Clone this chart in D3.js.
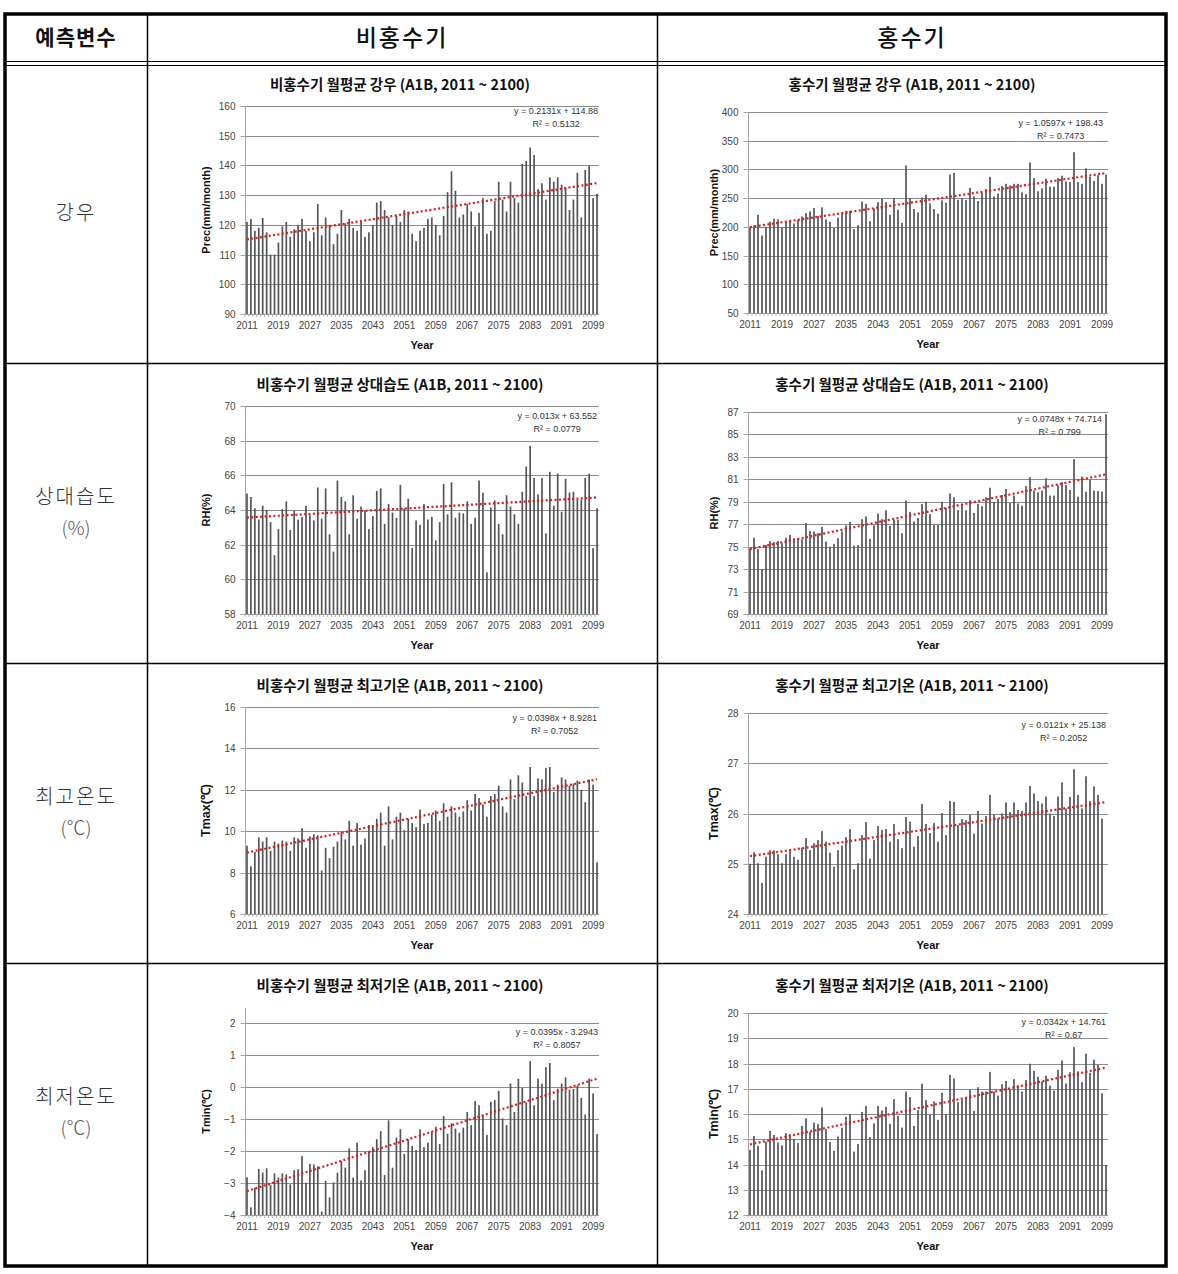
<!DOCTYPE html>
<html><head><meta charset="utf-8">
<script src="https://cdn.jsdelivr.net/npm/d3@7"></script>
<style>
body{margin:0;background:#fff;}
svg{display:block;}
</style></head>
<body>
<svg id="c" width="1178" height="1274"></svg>
<script>
// ---------- DATA ----------
const years = d3.range(2011, 2101).map(String); // categories 2011..2100
const xTickLabels = ["2011","2019","2027","2035","2043","2051","2059","2067","2075","2083","2091","2099"];

const precDry = [121,122,118,119,122.3,117.5,110,110,114,119.5,
121,116,118.5,120,122,118,114.5,117.5,127,116.5,
122.5,120,113.5,117,125,120.5,122,119,118,121,
116,117.5,120,127.5,128,125,122.5,120,123,121,
125,124.5,117,114.5,118,119,122,122.5,120,116.5,
123,131,138,131.5,122.5,123.5,127,124.5,119.5,124,
129,117,118,128,134.5,128.5,124.5,134.5,129,127.5,
140.5,141.5,146,143.5,132,134,128.5,136,134.5,136,
133.5,132.5,125,128.5,137.5,122.5,138.5,140,129,130.5];

const precFlood = [199,203,221,185,200,209,214,213,199,209,
210,206,212,218,224,227,233,219,234,213,
209,198,216,223,228,228,196,203,244,240,
210,232,243,249,243,221,250,230,207,307,
250,231,225,251,256,241,231,223,246,242,
291,294,247,250,247,268,253,245,259,266,
287,253,258,271,275,272,275,275,260,257,
312,285,262,267,284,270,270,285,289,279,
278,330,278,275,302,287,280,290,275,291];

const rhDry = [64.95,64.75,64.1,63.45,64.25,64.0,63.3,61.4,62.9,64.05,
64.5,62.85,63.95,63.45,63.6,64.25,63.7,63.4,65.3,63.5,
65.25,62.6,61.6,65.7,64.75,64.5,62.6,64.85,63.5,64.2,
63.95,62.9,63.65,65.1,65.25,63.2,64.35,63.85,63.55,65.45,
64.1,64.65,61.8,63.4,63.15,64.35,63.45,63.6,62.25,63.3,
65.5,63.75,65.6,63.55,63.85,63.8,64.5,63.2,63.55,65.7,
65.0,60.4,64.15,64.55,63.2,62.6,64.85,64.2,63.75,63.2,
65.05,66.5,67.7,65.85,64.9,65.85,62.65,66.2,64.25,66.1,
63.9,65.8,65.0,65.05,64.6,64.6,65.85,66.1,61.8,64.1];

const rhFlood = [74.85,75.8,74.8,73.0,75.15,75.5,75.4,75.5,75.3,75.8,
76.05,75.75,75.7,75.65,77.1,76.4,76.35,76.2,76.75,75.45,
75.0,75.25,75.75,76.35,76.9,77.2,75.1,75.15,77.45,77.7,
75.7,76.9,77.95,77.45,78.25,76.85,77.4,77.4,76.2,79.1,
78.1,77.25,77.55,78.8,79.0,77.9,76.95,76.95,79.0,78.45,
79.75,79.4,78.25,78.7,78.25,79.15,78.0,78.8,78.6,79.4,
80.25,79.0,79.25,79.6,80.15,78.9,79.55,78.85,78.65,80.4,
81.2,80.0,79.85,80.0,81.1,79.55,79.55,80.45,80.75,80.5,
80.05,82.8,79.45,81.25,79.9,80.95,80.0,79.95,79.9,86.8];

const tmaxDry = [9.3,8.3,9.0,9.7,9.5,9.7,9.05,9.5,9.4,9.55,
9.5,9.05,9.7,9.65,10.15,9.2,9.75,9.85,9.8,8.1,
9.2,8.7,9.25,9.5,9.95,9.6,10.5,9.3,10.4,9.35,
9.65,10.3,10.25,10.6,10.9,9.3,11.2,9.6,10.7,10.9,
10.05,10.6,10.4,10.2,11.05,10.35,10.4,10.8,11.0,10.5,
11.35,10.7,11.2,10.9,10.7,10.95,11.5,11.0,11.8,11.6,
11.3,10.7,11.7,11.8,12.2,11.2,10.9,12.5,11.55,12.7,
12.35,11.7,13.1,11.7,12.55,12.5,13.05,13.1,11.9,12.25,
12.6,12.5,12.2,12.3,12.45,12.0,11.4,12.5,12.25,8.5];

const tmaxFlood = [25.0,25.23,25.01,24.62,25.14,25.27,25.27,25.19,25.01,25.19,
25.26,25.14,25.08,25.32,25.51,25.27,25.41,25.47,25.65,25.44,
25.22,24.94,25.27,25.36,25.53,25.69,24.89,25.01,25.57,25.83,
25.1,25.47,25.75,25.67,25.69,25.44,25.79,25.49,25.31,25.93,
25.84,25.34,25.55,26.19,25.79,25.61,25.81,25.44,26.01,25.57,
26.25,26.23,25.77,25.89,25.87,25.97,25.6,26.05,25.8,25.95,
26.37,25.97,25.9,26.0,26.22,26.03,26.22,26.07,26.05,26.22,
26.55,26.4,26.25,26.2,26.34,26.0,25.95,26.34,26.62,26.1,
26.33,26.88,26.37,26.1,26.74,26.25,26.54,26.37,25.9,null];

const tminDry = [-2.82,-3.76,-3.15,-2.56,-2.67,-2.54,-3.06,-2.70,-2.83,-2.70,
-2.73,-3.04,-2.60,-2.57,-2.16,-2.99,-2.40,-2.42,-2.48,-3.89,
-2.93,-3.45,-2.98,-2.68,-2.31,-2.52,-1.92,-2.83,-1.74,-2.92,
-2.60,-2.02,-1.88,-1.63,-1.38,-2.75,-1.04,-2.52,-1.58,-1.32,
-2.09,-1.64,-1.84,-1.97,-1.32,-1.88,-1.74,-1.40,-1.24,-1.78,
-0.91,-1.46,-1.13,-1.30,-1.43,-1.27,-0.78,-1.19,-0.44,-0.57,
-0.88,-1.50,-0.46,-0.41,-0.12,-0.98,-1.19,0.11,-0.78,0.26,
-0.03,-0.48,0.81,-0.57,0.26,0.11,0.62,0.75,-0.41,-0.05,
0.11,0.30,-0.08,-0.06,0.05,-0.34,-0.86,0.26,-0.20,-1.47];

const tminFlood = [14.58,15.13,14.74,13.77,14.91,15.33,15.17,14.87,14.76,15.24,
15.20,15.01,14.85,15.53,15.83,15.30,15.66,15.60,16.26,15.40,
14.89,14.54,15.11,15.46,15.89,16.00,14.51,14.81,16.08,16.32,
15.09,15.63,16.32,16.14,16.28,15.61,16.59,15.93,15.46,16.89,
16.67,15.53,16.15,17.20,16.55,15.97,16.50,15.77,16.84,16.00,
17.55,17.41,16.47,16.56,16.63,16.96,16.12,17.06,16.89,16.89,
17.67,16.89,16.73,17.18,17.31,16.96,17.38,17.13,16.89,17.35,
17.99,17.71,17.47,17.29,17.51,17.12,16.93,17.75,18.12,17.21,
17.65,18.65,17.69,17.26,18.39,17.63,18.15,17.95,16.82,13.98];

// trend equations shown in each chart: [slope, intercept, R²]
const trendPrecDry = [0.2131, 114.88, "0.5132"];
const trendPrecFlood = [1.0597, 198.43, "0.7473"];
const trendRhDry = [0.013, 63.552, "0.0779"];
const trendRhFlood = [0.0748, 74.714, "0.799"];
const trendTmaxDry = [0.0398, 8.9281, "0.7052"];
const trendTmaxFlood = [0.0121, 25.138, "0.2052"];
const trendTminDry = [0.0395, -3.2943, "0.8057"];
const trendTminFlood = [0.0342, 14.761, "0.67"];

// y ticks
const ticksPrecDry = [90,100,110,120,130,140,150,160];
const ticksPrecFlood = [50,100,150,200,250,300,350,400];
const ticksRhDry = [58,60,62,64,66,68,70];
const ticksRhFlood = [69,71,73,75,77,79,81,83,85,87];
const ticksTmaxDry = [6,8,10,12,14,16];
const ticksTmaxFlood = [24,25,26,27,28];
const ticksTminDry = [-4,-3,-2,-1,0,1,2];
const ticksTminFlood = [12,13,14,15,16,17,18,19,20];

const headerLabels = ["예측변수","비홍수기","홍수기"];
const rowLabels = [["강우"],["상대습도","(%)"],["최고온도","(℃)"],["최저온도","(℃)"]];

// ---------- LAYOUT / DRAW ----------
const svg = d3.select("#c");
svg.append("rect").attr("width",1178).attr("height",1274).attr("fill","#fff");

const NUM = "'Liberation Sans', Arial, sans-serif";
const KR = "'Noto Sans CJK KR', 'Noto Sans', sans-serif";

const L = {x0:245, x1:599, titleX:400, yTitleX:206};
const R = {x0:748, x1:1108, titleX:912, yTitleX:714};

const charts = [
 {side:L, top:106, bot:314, titleY:85, vals:precDry, ticks:ticksPrecDry, dmax:160, tr:trendPrecDry,
  title:"비홍수기 월평균 강우 (A1B, 2011 ~ 2100)", ylab:"Prec(mm/month)", eqY:111, eqR:598},
 {side:R, top:112, bot:313, titleY:85, vals:precFlood, ticks:ticksPrecFlood, dmax:400, tr:trendPrecFlood,
  title:"홍수기 월평균 강우 (A1B, 2011 ~ 2100)", ylab:"Prec(mm/month)", eqY:123, eqR:1103},
 {side:L, top:406, bot:614, titleY:385, vals:rhDry, ticks:ticksRhDry, dmax:70, tr:trendRhDry,
  title:"비홍수기 월평균 상대습도 (A1B, 2011 ~ 2100)", ylab:"RH(%)", eqY:416, eqR:597},
 {side:R, top:412, bot:614, titleY:385, vals:rhFlood, ticks:ticksRhFlood, dmax:87, tr:trendRhFlood,
  title:"홍수기 월평균 상대습도 (A1B, 2011 ~ 2100)", ylab:"RH(%)", eqY:419, eqR:1102},
 {side:L, top:707, bot:914, titleY:686, vals:tmaxDry, ticks:ticksTmaxDry, dmax:16, tr:trendTmaxDry,
  title:"비홍수기 월평균 최고기온 (A1B, 2011 ~ 2100)", ylab:"Tmax(℃)", eqY:718, eqR:597, big:true},
 {side:R, top:713, bot:914, titleY:686, vals:tmaxFlood, ticks:ticksTmaxFlood, dmax:28, tr:trendTmaxFlood,
  title:"홍수기 월평균 최고기온 (A1B, 2011 ~ 2100)", ylab:"Tmax(℃)", eqY:725, eqR:1106, big:true},
 {side:L, top:1008, bot:1215, titleY:986, vals:tminDry, ticks:ticksTminDry, dmax:2.47, tr:trendTminDry,
  title:"비홍수기 월평균 최저기온 (A1B, 2011 ~ 2100)", ylab:"Tmin(℃)", eqY:1032, eqR:598},
 {side:R, top:1013, bot:1215, titleY:986, vals:tminFlood, ticks:ticksTminFlood, dmax:20, tr:trendTminFlood,
  title:"홍수기 월평균 최저기온 (A1B, 2011 ~ 2100)", ylab:"Tmin(℃)", eqY:1022, eqR:1106, big:true}
];

charts.forEach(c => {
  const g = svg.append("g");
  const x = d3.scaleBand().domain(years).range([c.side.x0, c.side.x1]).paddingInner(0).paddingOuter(0);
  const dmin = c.ticks[0];
  const y = d3.scaleLinear().domain([dmin, c.dmax]).range([c.bot, c.top]);

  // gridlines
  g.selectAll("line.grid").data(c.ticks.filter(t => t !== dmin)).join("line")
    .attr("x1", c.side.x0).attr("x2", c.side.x1)
    .attr("y1", d => Math.round(y(d)) + 0.5).attr("y2", d => Math.round(y(d)) + 0.5)
    .attr("stroke", "#8c8c8c").attr("stroke-width", 1);

  // y axis
  const yAxis = d3.axisLeft(y).tickValues(c.ticks).tickSize(5).tickPadding(5).tickFormat(d3.format("d"));
  const ya = g.append("g").attr("transform", `translate(${c.side.x0 + 0.5},0)`).call(yAxis);
  ya.select(".domain").attr("stroke", "#a6a6a6").attr("d", `M0,${c.top}V${c.bot}`);
  ya.selectAll(".tick line").attr("stroke", "#a6a6a6");
  ya.selectAll(".tick text").attr("font-family", NUM).attr("font-size", 10).attr("fill", "#444");
  ya.selectAll(".tick").attr("transform", d => `translate(0,${Math.round(y(d)) + 0.5})`);

  // bars
  const bw = x.bandwidth();
  const barW = 1.7;
  g.selectAll("rect.bar").data(years.map((yr, i) => ({yr, v: c.vals[i]})).filter(d => d.v !== null)).join("rect")
    .attr("x", d => x(d.yr) + (bw - barW) / 2)
    .attr("width", barW)
    .attr("y", d => y(Math.min(d.v, c.dmax)))
    .attr("height", d => c.bot - y(Math.min(d.v, c.dmax)))
    .attr("fill", "#555");

  // x axis
  const xAxis = d3.axisBottom(x).tickValues(xTickLabels).tickSize(0).tickPadding(8);
  const xa = g.append("g").attr("transform", `translate(0,${c.bot})`).call(xAxis);
  xa.select(".domain").attr("stroke", "#9a9a9a").attr("d", `M${c.side.x0},0.5H${c.side.x1}`);
  xa.selectAll(".tick text").attr("font-family", NUM).attr("font-size", 10).attr("fill", "#444");
  // small category ticks
  g.selectAll("line.ct").data(years).join("line")
    .attr("x1", d => x(d)).attr("x2", d => x(d))
    .attr("y1", c.bot).attr("y2", c.bot + 3)
    .attr("stroke", "#9a9a9a").attr("stroke-width", 0.7);

  // trend line
  const [a, b, r2] = c.tr;
  const line = d3.line().x(d => x(d) + bw / 2).y((d, i) => y(a * (i + 1) + b));
  g.append("path").datum(years).attr("d", line)
    .attr("fill", "none").attr("stroke", "#e0191c").attr("stroke-width", 2.2)
    .attr("stroke-dasharray", "2,2.4");

  // equation
  const eqStr = `y = ${a}x ${b < 0 ? "-" : "+"} ${Math.abs(b)}`;
  const eq = g.append("text").attr("x", c.eqR).attr("y", c.eqY).attr("dy", "0.35em")
    .attr("text-anchor", "end").attr("font-family", NUM).attr("font-size", 9).attr("fill", "#333").text(eqStr);
  const ew = eq.node().getComputedTextLength();
  g.append("text").attr("x", c.eqR - ew / 2).attr("y", c.eqY + 13).attr("dy", "0.35em")
    .attr("text-anchor", "middle").attr("font-family", NUM).attr("font-size", 9).attr("fill", "#333")
    .text(`R² = ${r2}`);

  // title
  g.append("text").attr("x", c.side.titleX).attr("y", c.titleY).attr("dy", "0.35em")
    .attr("text-anchor", "middle").attr("font-family", KR).attr("font-weight", "bold")
    .attr("font-size", 14.5).attr("fill", "#111").text(c.title);

  // y title
  const ym = (c.top + c.bot) / 2;
  g.append("text").attr("transform", `translate(${c.side.yTitleX},${ym}) rotate(-90)`)
    .attr("text-anchor", "middle").attr("dy", "0.35em")
    .attr("font-family", NUM).attr("font-weight", "bold").attr("font-size", c.big ? 12.5 : 11)
    .attr("fill", "#111").text(c.ylab);

  // x title
  g.append("text").attr("x", (c.side.x0 + c.side.x1) / 2).attr("y", c.bot + 31).attr("dy", "0.35em")
    .attr("text-anchor", "middle").attr("font-family", NUM).attr("font-weight", "bold")
    .attr("font-size", 11).attr("fill", "#111").text("Year");
});

// ---------- TABLE ----------
const T = {l:5, r:1166, t:14, b:1266};
const colX = [147.5, 657.5];
const rowY = [363.5, 663.5, 963.5];
const tg = svg.append("g");
colX.forEach(cx => tg.append("line").attr("x1", cx).attr("x2", cx).attr("y1", T.t).attr("y2", T.b)
  .attr("stroke", "#000").attr("stroke-width", 1.5));
rowY.forEach(ry => tg.append("line").attr("x1", T.l).attr("x2", T.r).attr("y1", ry).attr("y2", ry)
  .attr("stroke", "#000").attr("stroke-width", 1.5));
[61.5, 65.5].forEach(ry => tg.append("line").attr("x1", T.l).attr("x2", T.r).attr("y1", ry).attr("y2", ry)
  .attr("stroke", "#000").attr("stroke-width", 1));
tg.append("rect").attr("x", T.l).attr("y", T.t).attr("width", T.r - T.l).attr("height", T.b - T.t)
  .attr("fill", "none").attr("stroke", "#000").attr("stroke-width", 3.5);

// header
const hx = [76, 402, 912];
headerLabels.forEach((h, i) => tg.append("text").attr("x", hx[i]).attr("y", 38).attr("dy", "0.35em")
  .attr("text-anchor", "middle").attr("font-family", KR)
  .attr("font-weight", i === 0 ? "bold" : 500).attr("font-size", i === 0 ? 21 : 23)
  .attr("letter-spacing", i === 0 ? 1 : 2).attr("fill", "#111").text(h));

// row labels
const rowCenters = [213, 512, 812, 1112];
rowLabels.forEach((lab, i) => {
  if (lab.length === 1) {
    tg.append("text").attr("x", 76).attr("y", rowCenters[i]).attr("dy", "0.35em")
      .attr("text-anchor", "middle").attr("font-family", KR).attr("font-weight", 300)
      .attr("font-size", 20).attr("letter-spacing", 2).attr("fill", "#333").text(lab[0]);
  } else {
    tg.append("text").attr("x", 76).attr("y", rowCenters[i] - 15).attr("dy", "0.35em")
      .attr("text-anchor", "middle").attr("font-family", KR).attr("font-weight", 300)
      .attr("font-size", 20).attr("letter-spacing", 2).attr("fill", "#333").text(lab[0]);
    tg.append("text").attr("x", 76).attr("y", rowCenters[i] + 16).attr("dy", "0.35em")
      .attr("text-anchor", "middle").attr("font-family", KR).attr("font-weight", 300)
      .attr("font-size", 19).attr("fill", "#555").text(lab[1]);
  }
});
</script>
</body></html>
